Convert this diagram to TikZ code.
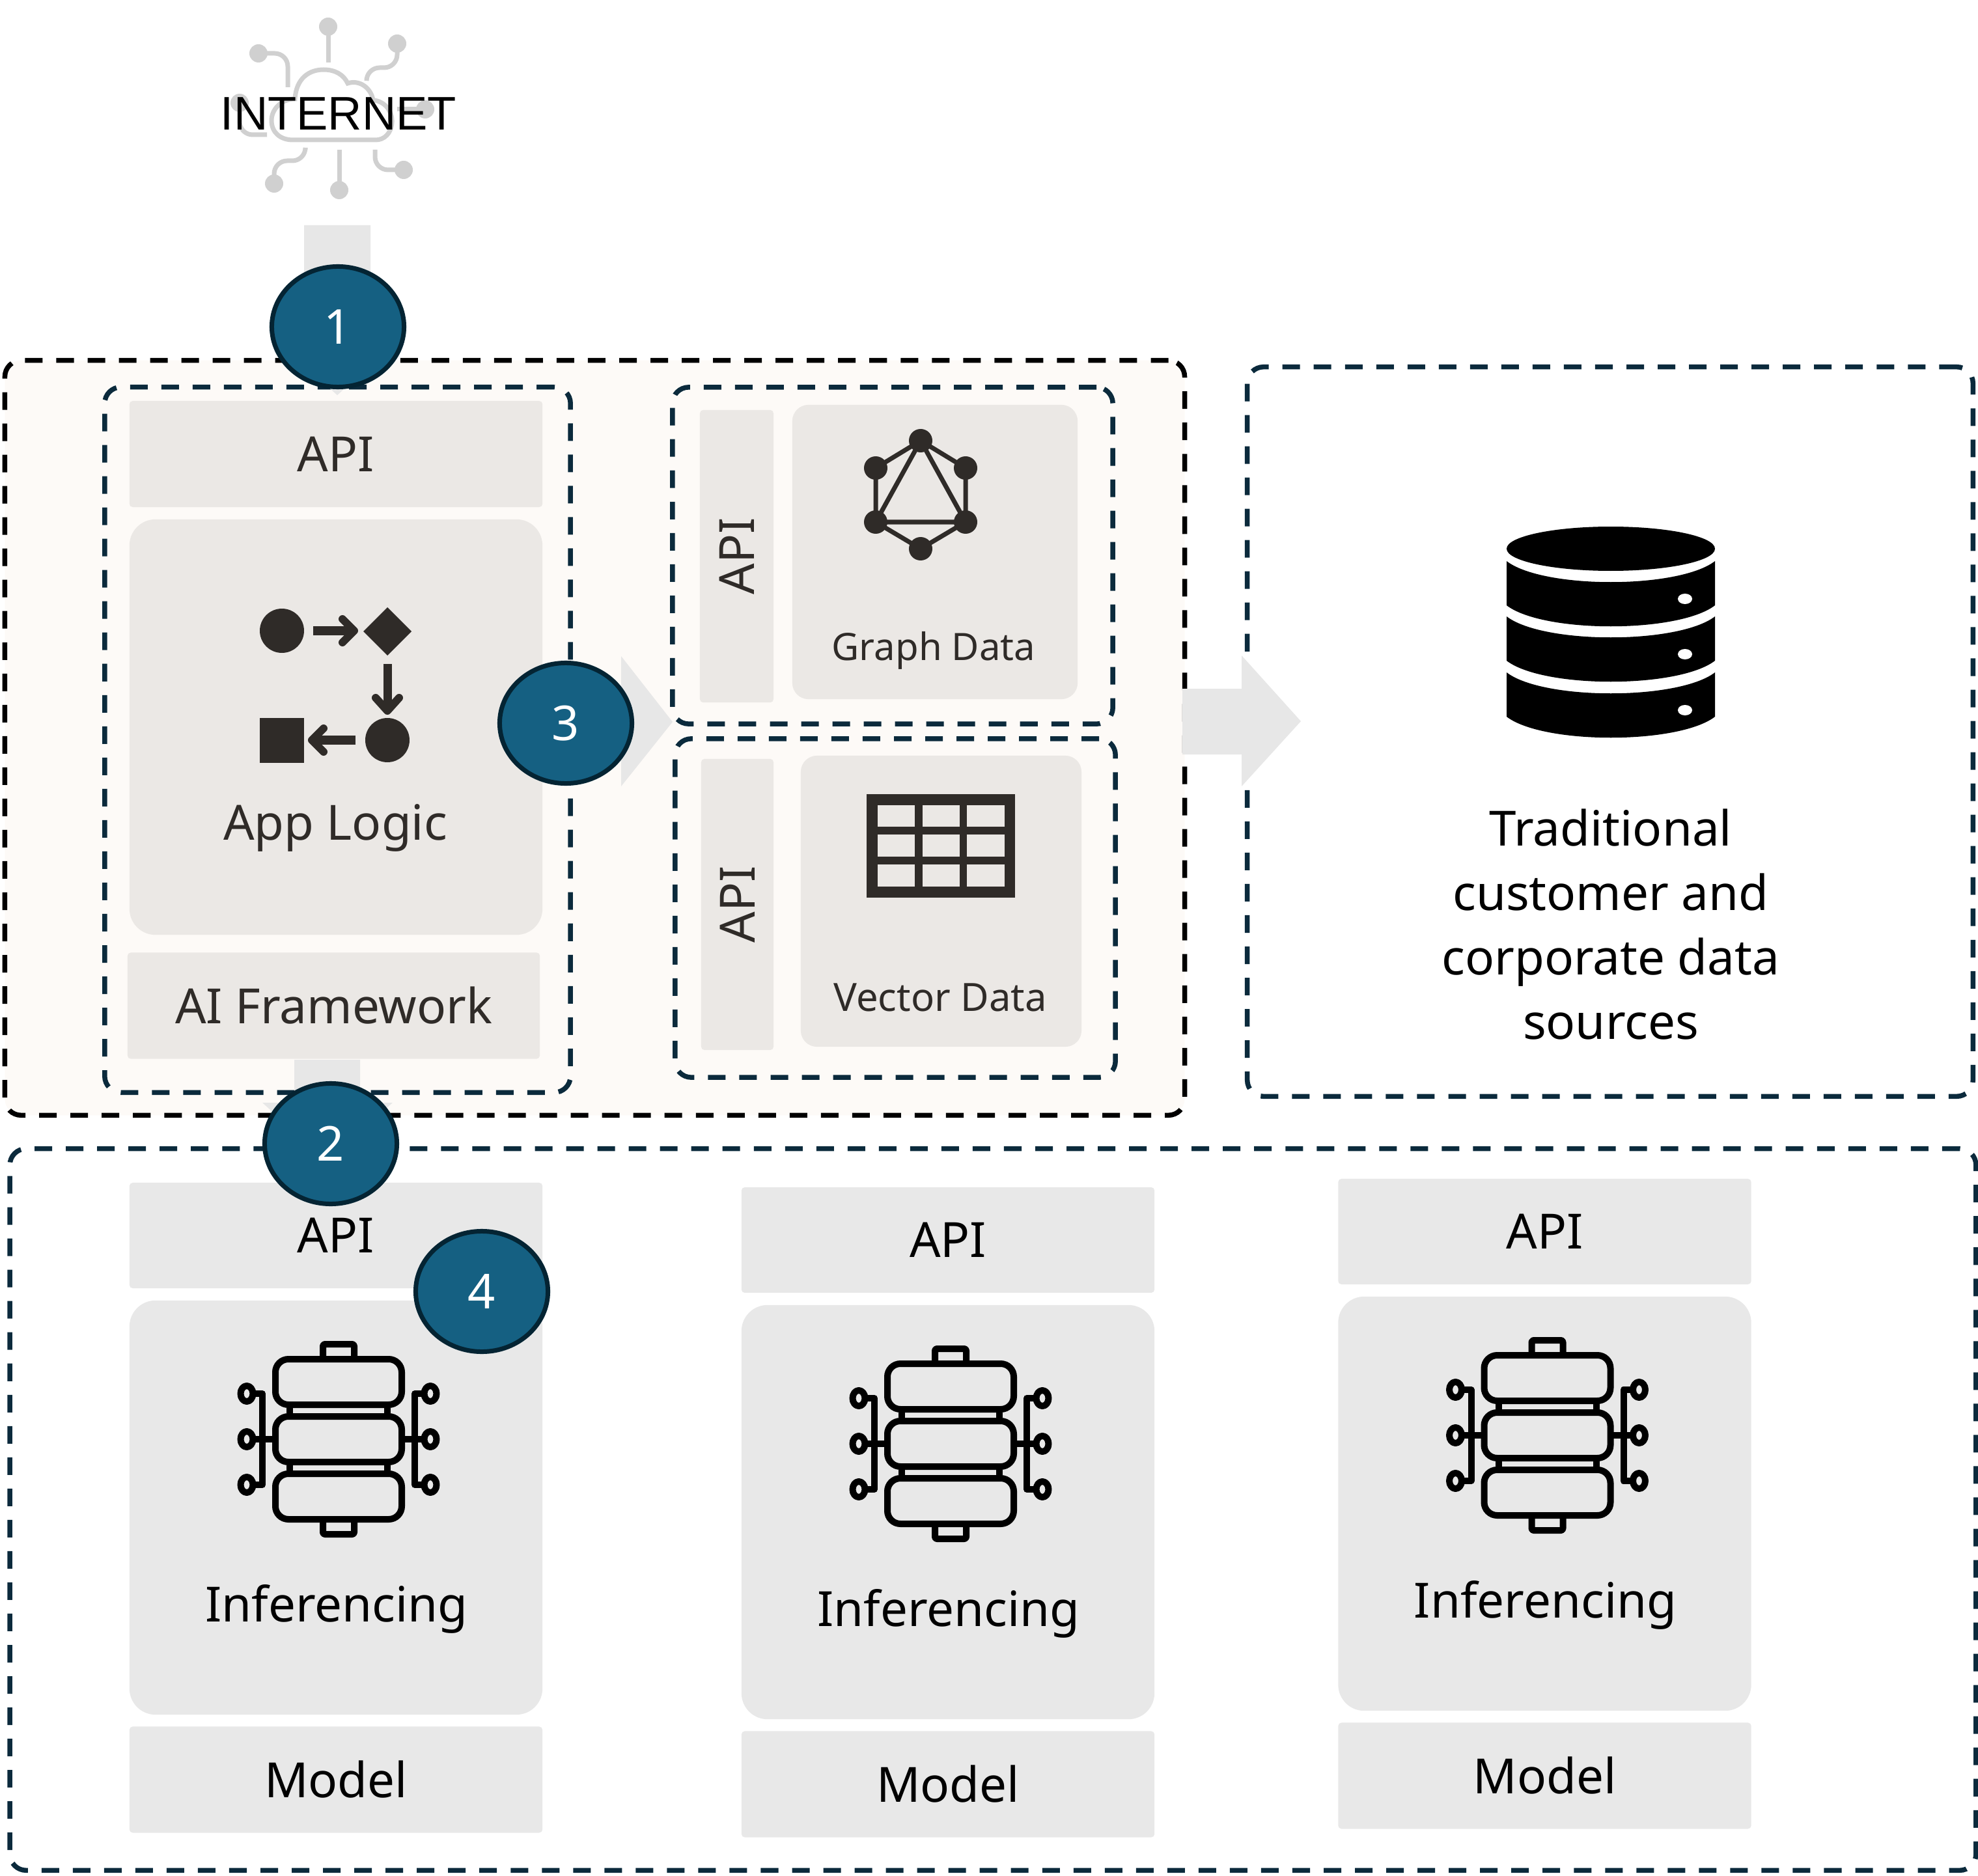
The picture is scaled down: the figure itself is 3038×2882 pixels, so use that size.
\documentclass[tikz,border=0pt]{standalone}
\usepackage{fontspec}
\setmainfont{Noto Sans}
\newfontfamily\arialfont{Liberation Sans}
\usetikzlibrary{shapes.geometric}

\definecolor{navyline}{HTML}{0B2A3C}
\definecolor{badgefill}{HTML}{156082}
\definecolor{badgeline}{HTML}{042433}
\definecolor{creamfill}{HTML}{FDFAF7}
\definecolor{warmpanel}{HTML}{EBE8E5}
\definecolor{greypanel}{HTML}{E8E8E8}
\definecolor{arrowfill}{HTML}{E7E7E7}
\definecolor{warmink}{HTML}{2F2B28}
\definecolor{cloudgrey}{HTML}{D0D0D0}

\tikzset{
    dashbox/.style={draw=navyline, line width=0.075cm, dash pattern=on 0.27cm off 0.21cm, rounded corners=0.25cm, inner sep=0pt},
    panel/.style={fill=#1, inner sep=0pt, rounded corners=0.05cm, text=warmink, font=\fontsize{21.2}{26}\selectfont},
    roundpanel/.style={panel=#1, rounded corners=0.4cm},
    badge/.style={ellipse, draw=badgeline, line width=0.07cm, fill=badgefill, text=white, inner sep=0pt,
        minimum width=2.03cm, minimum height=1.85cm, font=\fontsize{21}{25}\selectfont},
    label/.style={inner sep=0pt, font=\fontsize{21.2}{26}\selectfont},
    cloudline/.style={draw=cloudgrey, line width=0.07cm},
    chipline/.style={draw=black, line width=0.1cm, line join=round},
    logicline/.style={draw=warmink, line width=0.12cm, line cap=round, line join=round},
    graphline/.style={draw=warmink, line width=0.07cm},
    chipicon/.pic={
        \foreach \r in {-88,0,88}
            \draw[chipline, rounded corners=0.2cm] (-97,\r-35) rectangle (97,\r+35);
        \draw[chipline, rounded corners=0.03cm] (-24,-123) -- (-24,-146) -- (24,-146) -- (24,-123);
        \draw[chipline, rounded corners=0.03cm] (-24,123) -- (-24,146) -- (24,146) -- (24,123);
        \foreach \s in {-1,1} {
            \draw[chipline] (\s*75,-53) -- (\s*75,-35);
            \draw[chipline] (\s*75,35) -- (\s*75,53);
            \draw[chipline] (\s*131,-70) -- (\s*117,-70) -- (\s*117,70) -- (\s*131,70);
            \draw[chipline] (\s*131,0) -- (\s*97,0);
            \foreach \r in {-70,0,70}
                \draw[chipline] (\s*141,\r) ellipse [x radius=9.5, y radius=12];
        }
    }
}

\begin{document}
\begin{tikzpicture}[x=0.01cm, y=-0.01cm]
    \useasboundingbox (0,0) rectangle (3038,2882);

    %Internet icon
    \draw[cloudline] (450,215) .. controls (430,215) and (417,203) .. (417,185)
        .. controls (417,168) and (432,152) .. (453,152)
        .. controls (455,120) and (475,107) .. (497,107)
        .. controls (515,107) and (528,115) .. (534,128)
        .. controls (552,122) and (570,135) .. (573,154)
        .. controls (590,155) and (603,170) .. (602,188)
        .. controls (601,205) and (590,215) .. (577,215) -- cycle;
    \draw[cloudline] (504,41) -- (504,96);
    \draw[cloudline, rounded corners=0.2cm] (397,82) -- (442,82) -- (442,134);
    \draw[cloudline, rounded corners=0.2cm] (610,67) -- (610,104) -- (563,104) -- (563,120);
    \draw[cloudline, rounded corners=0.2cm] (368,158) -- (368,207) -- (410,207);
    \draw[cloudline] (653,168) -- (610,168);
    \draw[cloudline, rounded corners=0.2cm] (421,282) -- (421,247) -- (469,247) -- (469,230);
    \draw[cloudline] (521,292) -- (521,230);
    \draw[cloudline, rounded corners=0.2cm] (620,261) -- (576,261) -- (576,230);
    \foreach \px/\py in {504/41,397/82,610/67,368/158,653/168,421/282,521/292,620/261}
        \fill[cloudgrey] (\px,\py) ellipse [x radius=14, y radius=14];
    \node[inner sep=0pt, font=\arialfont\fontsize{20.6}{25}\selectfont] (internet) at (520,175) {INTERNET};

    %Containers
    \node[dashbox, draw=black, fill=creamfill, minimum width=18.11cm, minimum height=11.59cm] (appzone) at (913.5,1133.5) {};
    \node[dashbox, minimum width=11.14cm, minimum height=11.20cm] (sourcezone) at (2473,1124) {};
    \node[dashbox, minimum width=30.18cm, minimum height=11.08cm] (modelzone) at (1525,2319) {};
    \node[dashbox, minimum width=7.15cm, minimum height=10.83cm] (appbox) at (518.5,1136.5) {};
    \node[dashbox, minimum width=6.76cm, minimum height=5.17cm] (graphbox) at (1371,853.5) {};
    \node[dashbox, minimum width=6.76cm, minimum height=5.20cm] (vectorbox) at (1375,1395) {};

    %App column
    \node[panel=warmpanel, minimum width=6.34cm, minimum height=1.63cm] (appapi) at (516,697.5) {API};
    \node[roundpanel=warmpanel, minimum width=6.34cm, minimum height=6.38cm] (applogic) at (516,1117) {};
    \node[panel=warmpanel, minimum width=6.33cm, minimum height=1.63cm] (framework) at (512.5,1545) {AI Framework};
    \node[label, text=warmink] (applogiclabel) at (515,1272) {App Logic};

    %Logic icon
    \fill[warmink] (433,969) ellipse [x radius=34, y radius=34];
    \fill[warmink] (558,970) -- (595,933) -- (632,970) -- (595,1007) -- cycle;
    \fill[warmink] (595,1137) ellipse [x radius=34, y radius=34];
    \fill[warmink] (399,1103) rectangle (467,1172);
    \draw[warmink, line width=0.13cm] (481,969) -- (540,969);
    \draw[logicline] (526,951) -- (544,969) -- (526,987);
    \draw[warmink, line width=0.13cm] (595,1020) -- (595,1090);
    \draw[logicline] (577,1072) -- (595,1092) -- (613,1072);
    \draw[warmink, line width=0.13cm] (546,1137) -- (482,1137);
    \draw[logicline] (497,1119) -- (479,1137) -- (497,1155);

    %Data stores
    \node[panel=warmpanel, minimum width=1.13cm, minimum height=4.49cm] (graphapi) at (1131.5,854.5) {\rotatebox{90}{API}};
    \node[roundpanel=warmpanel, minimum width=4.38cm, minimum height=4.52cm, rounded corners=0.25cm] (graphdata) at (1436,848) {};
    \node[panel=warmpanel, minimum width=1.11cm, minimum height=4.47cm] (vectorapi) at (1132.5,1389.5) {\rotatebox{90}{API}};
    \node[roundpanel=warmpanel, minimum width=4.31cm, minimum height=4.47cm, rounded corners=0.25cm] (vectordata) at (1445.5,1384.5) {};
    \node[inner sep=0pt, text=warmink, font=\fontsize{16.5}{20}\selectfont] (graphlabel) at (1434,999) {Graph Data};
    \node[inner sep=0pt, text=warmink, font=\fontsize{17}{20}\selectfont] (vectorlabel) at (1444,1532) {Vector Data};

    %Graph icon
    \draw[graphline] (1414,677) -- (1483,719) -- (1483,802) -- (1414,843) -- (1345,802) -- (1345,719) -- cycle;
    \draw[graphline] (1414,677) -- (1483,802) -- (1345,802) -- cycle;
    \foreach \px/\py in {1414/677,1345/719,1483/719,1345/802,1483/802,1414/843}
        \fill[warmink] (\px,\py) ellipse [x radius=18, y radius=18];

    %Table icon
    \fill[warmink] (1331,1220) rectangle (1559,1379);
    \foreach \ax/\bx in {1348/1405,1417/1474,1485/1543}
        \foreach \ay/\by in {1237/1270,1282/1316,1328/1362}
            \fill[warmpanel] (\ax,\ay) rectangle (\bx,\by);

    %Traditional sources
    \fill[black] (2474,843) ellipse [x radius=160, y radius=34];
    \foreach \ty in {862,947,1033} {
        \fill[black] (2314,\ty) .. controls (2370,\ty+43) and (2578,\ty+43) .. (2634,\ty)
            -- (2634,\ty+68) .. controls (2578,\ty+111) and (2370,\ty+111) .. (2314,\ty+68) -- cycle;
    }
    \foreach \hy in {920,1005,1091}
        \fill[white] (2588,\hy) ellipse [x radius=11, y radius=8];
    \node[label, text=black, align=center, font=\fontsize{21.2}{28.2}\selectfont] (sourcelabel) at (2474,1420)
        {Traditional\\customer and\\corporate data\\sources};

    %Model columns
    \foreach \n/\cx/\cy in {1/516/1898,2/1456/1905,3/2372.5/1892} {
        \node[panel=greypanel, text=black, minimum width=6.34cm, minimum height=1.62cm] (api\n) at (\cx,\cy) {API};
        \node[roundpanel=greypanel, minimum width=6.34cm, minimum height=6.36cm] (infer\n) at (\cx,\cy+418) {};
        \node[panel=greypanel, text=black, minimum width=6.34cm, minimum height=1.63cm] (model\n) at (\cx,\cy+836) {Model};
        \pic at (\cx+4,\cy+313) {chipicon};
        \node[label, text=black] (inferlabel\n) at (\cx+1,\cy+574) {Inferencing};
    }

    %Block arrows
    \fill[arrowfill] (467,346) -- (569,346) -- (569,517) -- (618,517) -- (518,607) -- (418,517) -- (467,517) -- cycle;
    \fill[arrowfill] (452,1628) -- (553,1628) -- (553,1694) -- (603,1694) -- (503,1784) -- (403,1694) -- (452,1694) -- cycle;
    \fill[arrowfill] (869,1059) -- (954,1059) -- (954,1008) -- (1033,1109) -- (954,1208) -- (954,1159) -- (869,1159) -- cycle;
    \fill[arrowfill] (1816,1058) -- (1907,1058) -- (1907,1007) -- (1998,1108) -- (1907,1208) -- (1907,1159) -- (1816,1159) -- cycle;

    %Badges
    \node[badge] (one) at (519,502) {1};
    \node[badge] (two) at (508,1757) {2};
    \node[badge] (three) at (869,1111) {3};
    \node[badge] (four) at (740,1984) {4};
\end{tikzpicture}
\end{document}
